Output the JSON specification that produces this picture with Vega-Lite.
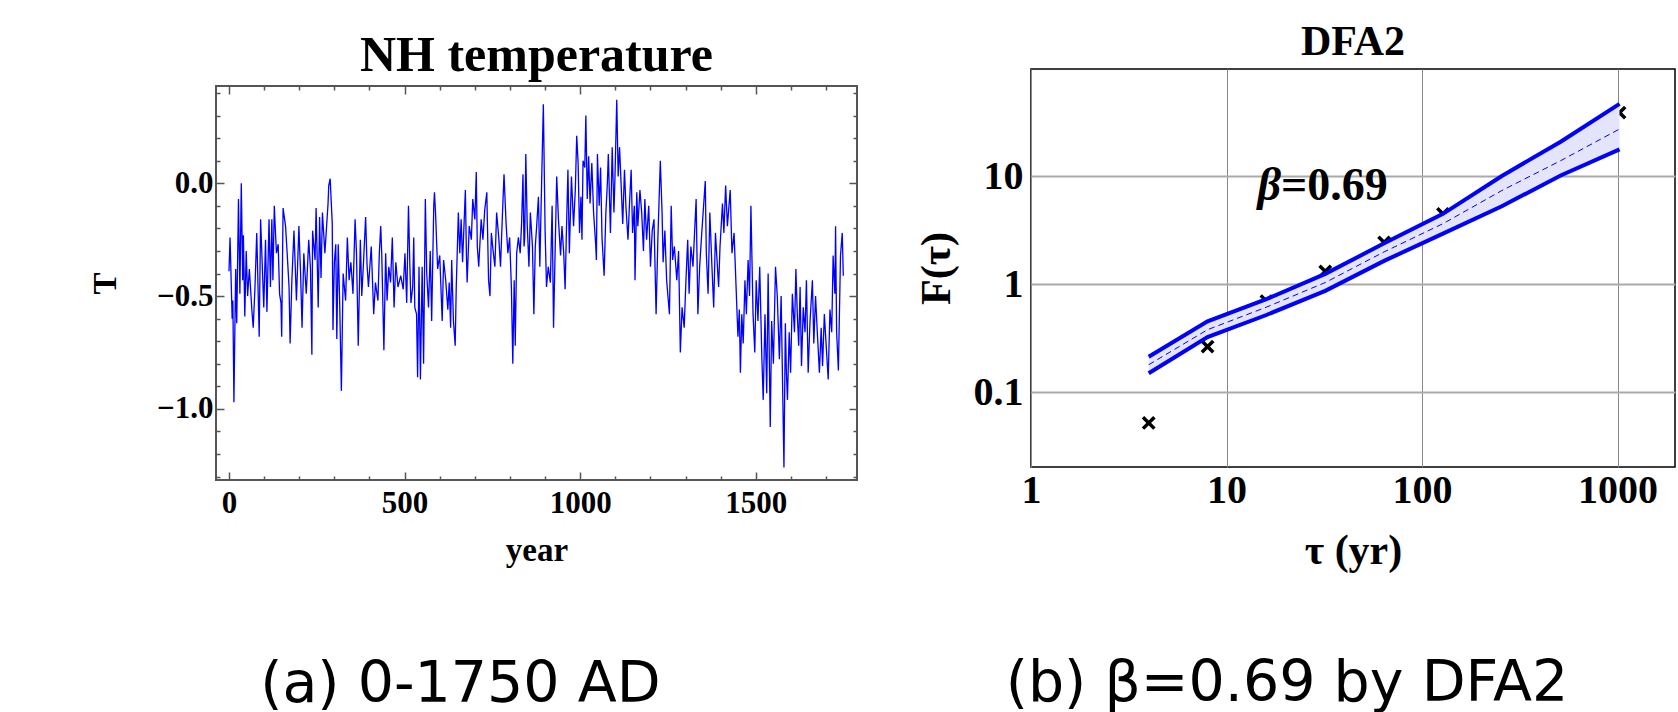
{
  "$schema": "https://vega.github.io/schema/vega-lite/v6.json",
  "background": "white",
  "padding": {"left": 88, "top": 20, "right": 0, "bottom": 0},
  "datasets": {
    "nh": [
      {"year":0,"T":-0.39},{"year":3,"T":-0.24},{"year":9,"T":-0.60},{"year":11,"T":-0.52},{"year":14,"T":-0.97},{"year":19,"T":-0.38},{"year":22,"T":-0.62},{"year":27,"T":-0.07},{"year":31,"T":-0.49},{"year":35,"T":0.00},{"year":39,"T":-0.43},{"year":41,"T":-0.23},{"year":45,"T":-0.59},{"year":49,"T":-0.30},{"year":53,"T":-0.50},{"year":58,"T":-0.38},{"year":65,"T":-0.56},{"year":69,"T":-0.64},{"year":74,"T":-0.46},{"year":79,"T":-0.22},{"year":86,"T":-0.68},{"year":90,"T":-0.16},{"year":99,"T":-0.55},{"year":104,"T":-0.25},{"year":108,"T":-0.57},{"year":114,"T":-0.16},{"year":118,"T":-0.46},{"year":122,"T":-0.16},{"year":125,"T":-0.43},{"year":129,"T":-0.10},{"year":135,"T":-0.31},{"year":140,"T":-0.27},{"year":144,"T":-0.49},{"year":148,"T":-0.53},{"year":150,"T":-0.68},{"year":154,"T":-0.11},{"year":161,"T":-0.19},{"year":166,"T":-0.32},{"year":171,"T":-0.46},{"year":174,"T":-0.71},{"year":179,"T":-0.43},{"year":185,"T":-0.21},{"year":192,"T":-0.52},{"year":199,"T":-0.19},{"year":204,"T":-0.41},{"year":208,"T":-0.64},{"year":213,"T":-0.31},{"year":220,"T":-0.49},{"year":227,"T":-0.25},{"year":232,"T":-0.38},{"year":236,"T":-0.76},{"year":238,"T":-0.21},{"year":245,"T":-0.34},{"year":248,"T":-0.11},{"year":254,"T":-0.55},{"year":258,"T":-0.15},{"year":262,"T":-0.42},{"year":266,"T":-0.13},{"year":273,"T":-0.31},{"year":282,"T":-0.09},{"year":284,"T":-0.01},{"year":288,"T":0.02},{"year":294,"T":-0.18},{"year":296,"T":-0.65},{"year":300,"T":-0.35},{"year":304,"T":-0.27},{"year":307,"T":-0.69},{"year":311,"T":-0.27},{"year":315,"T":-0.52},{"year":320,"T":-0.92},{"year":325,"T":-0.40},{"year":332,"T":-0.52},{"year":337,"T":-0.24},{"year":342,"T":-0.43},{"year":347,"T":-0.35},{"year":353,"T":-0.49},{"year":359,"T":-0.16},{"year":363,"T":-0.31},{"year":368,"T":-0.72},{"year":374,"T":-0.25},{"year":378,"T":-0.50},{"year":383,"T":-0.35},{"year":389,"T":-0.15},{"year":393,"T":-0.36},{"year":397,"T":-0.46},{"year":405,"T":-0.28},{"year":412,"T":-0.58},{"year":417,"T":-0.44},{"year":424,"T":-0.52},{"year":428,"T":-0.31},{"year":432,"T":-0.19},{"year":435,"T":-0.32},{"year":441,"T":-0.74},{"year":446,"T":-0.31},{"year":450,"T":-0.52},{"year":455,"T":-0.37},{"year":460,"T":-0.44},{"year":465,"T":-0.24},{"year":470,"T":-0.55},{"year":475,"T":-0.35},{"year":481,"T":-0.46},{"year":489,"T":-0.41},{"year":496,"T":-0.47},{"year":501,"T":-0.31},{"year":506,"T":-0.53},{"year":511,"T":-0.10},{"year":515,"T":-0.37},{"year":518,"T":-0.53},{"year":523,"T":-0.46},{"year":526,"T":-0.24},{"year":529,"T":-0.55},{"year":534,"T":-0.58},{"year":537,"T":-0.86},{"year":541,"T":-0.37},{"year":545,"T":-0.87},{"year":550,"T":-0.37},{"year":554,"T":-0.80},{"year":559,"T":-0.07},{"year":563,"T":-0.40},{"year":568,"T":-0.55},{"year":573,"T":-0.30},{"year":577,"T":-0.61},{"year":583,"T":-0.10},{"year":585,"T":-0.04},{"year":588,"T":-0.13},{"year":594,"T":-0.38},{"year":600,"T":-0.32},{"year":607,"T":-0.61},{"year":611,"T":-0.34},{"year":617,"T":-0.43},{"year":623,"T":-0.56},{"year":627,"T":-0.44},{"year":631,"T":-0.64},{"year":634,"T":-0.34},{"year":639,"T":-0.61},{"year":644,"T":-0.72},{"year":647,"T":-0.46},{"year":653,"T":-0.13},{"year":657,"T":-0.31},{"year":661,"T":-0.16},{"year":665,"T":-0.35},{"year":673,"T":-0.03},{"year":676,"T":-0.32},{"year":678,"T":-0.44},{"year":684,"T":-0.19},{"year":690,"T":-0.25},{"year":694,"T":-0.07},{"year":700,"T":-0.16},{"year":704,"T":0.05},{"year":707,"T":-0.28},{"year":711,"T":-0.37},{"year":718,"T":-0.16},{"year":723,"T":-0.25},{"year":728,"T":-0.12},{"year":734,"T":-0.04},{"year":739,"T":-0.43},{"year":743,"T":-0.50},{"year":747,"T":-0.22},{"year":752,"T":-0.30},{"year":757,"T":-0.37},{"year":762,"T":-0.13},{"year":768,"T":-0.24},{"year":773,"T":-0.37},{"year":778,"T":-0.16},{"year":783,"T":0.04},{"year":789,"T":-0.18},{"year":794,"T":-0.31},{"year":799,"T":-0.24},{"year":804,"T":-0.46},{"year":808,"T":-0.80},{"year":812,"T":-0.43},{"year":815,"T":-0.72},{"year":819,"T":-0.31},{"year":824,"T":-0.24},{"year":829,"T":-0.31},{"year":833,"T":-0.18},{"year":837,"T":0.04},{"year":840,"T":-0.28},{"year":842,"T":-0.24},{"year":845,"T":0.13},{"year":849,"T":-0.18},{"year":854,"T":-0.37},{"year":858,"T":-0.13},{"year":864,"T":-0.28},{"year":868,"T":-0.58},{"year":872,"T":-0.28},{"year":876,"T":-0.19},{"year":881,"T":-0.06},{"year":885,"T":-0.37},{"year":891,"T":0.07},{"year":895,"T":0.35},{"year":900,"T":-0.21},{"year":904,"T":-0.46},{"year":909,"T":-0.37},{"year":915,"T":-0.44},{"year":920,"T":-0.10},{"year":924,"T":-0.64},{"year":928,"T":-0.34},{"year":933,"T":0.03},{"year":938,"T":-0.16},{"year":944,"T":-0.32},{"year":948,"T":-0.19},{"year":953,"T":-0.31},{"year":957,"T":-0.47},{"year":961,"T":-0.19},{"year":965,"T":0.06},{"year":969,"T":-0.31},{"year":975,"T":0.03},{"year":981,"T":-0.19},{"year":986,"T":-0.03},{"year":990,"T":0.21},{"year":994,"T":0.09},{"year":998,"T":-0.22},{"year":1002,"T":-0.06},{"year":1005,"T":-0.25},{"year":1008,"T":0.10},{"year":1013,"T":0.07},{"year":1016,"T":0.30},{"year":1020,"T":-0.07},{"year":1024,"T":0.12},{"year":1028,"T":-0.09},{"year":1033,"T":0.09},{"year":1038,"T":-0.13},{"year":1044,"T":-0.27},{"year":1046,"T":-0.34},{"year":1049,"T":0.13},{"year":1054,"T":-0.10},{"year":1058,"T":0.07},{"year":1062,"T":-0.24},{"year":1068,"T":-0.41},{"year":1073,"T":-0.13},{"year":1077,"T":-0.01},{"year":1080,"T":0.13},{"year":1086,"T":-0.22},{"year":1091,"T":0.16},{"year":1096,"T":-0.13},{"year":1099,"T":0.03},{"year":1104,"T":0.37},{"year":1108,"T":0.03},{"year":1112,"T":0.16},{"year":1116,"T":0.01},{"year":1121,"T":-0.18},{"year":1126,"T":0.06},{"year":1130,"T":-0.10},{"year":1136,"T":-0.25},{"year":1140,"T":-0.10},{"year":1145,"T":0.06},{"year":1149,"T":-0.22},{"year":1154,"T":-0.10},{"year":1156,"T":-0.43},{"year":1161,"T":-0.04},{"year":1164,"T":-0.19},{"year":1170,"T":-0.03},{"year":1175,"T":-0.13},{"year":1180,"T":-0.30},{"year":1184,"T":-0.07},{"year":1189,"T":-0.25},{"year":1195,"T":-0.10},{"year":1200,"T":-0.37},{"year":1205,"T":-0.21},{"year":1210,"T":-0.16},{"year":1216,"T":-0.58},{"year":1221,"T":-0.25},{"year":1228,"T":0.10},{"year":1233,"T":-0.13},{"year":1236,"T":-0.35},{"year":1241,"T":-0.21},{"year":1246,"T":-0.43},{"year":1254,"T":-0.58},{"year":1259,"T":-0.10},{"year":1263,"T":-0.34},{"year":1268,"T":-0.28},{"year":1275,"T":-0.43},{"year":1280,"T":-0.30},{"year":1285,"T":-0.75},{"year":1290,"T":-0.55},{"year":1296,"T":-0.64},{"year":1301,"T":-0.43},{"year":1306,"T":-0.25},{"year":1310,"T":-0.49},{"year":1315,"T":-0.28},{"year":1321,"T":-0.37},{"year":1330,"T":-0.07},{"year":1335,"T":-0.58},{"year":1340,"T":-0.37},{"year":1346,"T":-0.22},{"year":1356,"T":0.01},{"year":1359,"T":-0.31},{"year":1364,"T":-0.49},{"year":1369,"T":-0.13},{"year":1375,"T":-0.37},{"year":1380,"T":-0.55},{"year":1385,"T":-0.22},{"year":1394,"T":-0.46},{"year":1398,"T":-0.28},{"year":1405,"T":-0.09},{"year":1409,"T":-0.22},{"year":1414,"T":-0.01},{"year":1419,"T":-0.19},{"year":1427,"T":-0.03},{"year":1432,"T":-0.31},{"year":1438,"T":-0.22},{"year":1443,"T":-0.43},{"year":1449,"T":-0.68},{"year":1453,"T":-0.56},{"year":1456,"T":-0.84},{"year":1460,"T":-0.58},{"year":1464,"T":-0.71},{"year":1469,"T":-0.43},{"year":1473,"T":-0.58},{"year":1478,"T":-0.34},{"year":1482,"T":-0.50},{"year":1486,"T":-0.10},{"year":1492,"T":-0.58},{"year":1497,"T":-0.75},{"year":1501,"T":-0.43},{"year":1506,"T":-0.61},{"year":1511,"T":-0.37},{"year":1517,"T":-0.77},{"year":1521,"T":-0.96},{"year":1526,"T":-0.58},{"year":1531,"T":-0.93},{"year":1535,"T":-0.40},{"year":1541,"T":-1.08},{"year":1545,"T":-0.61},{"year":1550,"T":-0.80},{"year":1556,"T":-0.37},{"year":1561,"T":-0.50},{"year":1567,"T":-0.78},{"year":1572,"T":-0.50},{"year":1580,"T":-1.26},{"year":1584,"T":-0.62},{"year":1587,"T":-0.84},{"year":1590,"T":-0.96},{"year":1595,"T":-0.66},{"year":1599,"T":-0.84},{"year":1604,"T":-0.49},{"year":1610,"T":-0.66},{"year":1614,"T":-0.38},{"year":1618,"T":-0.58},{"year":1622,"T":-0.72},{"year":1626,"T":-0.46},{"year":1630,"T":-0.81},{"year":1635,"T":-0.55},{"year":1640,"T":-0.66},{"year":1644,"T":-0.43},{"year":1649,"T":-0.84},{"year":1654,"T":-0.62},{"year":1661,"T":-0.43},{"year":1665,"T":-0.71},{"year":1670,"T":-0.50},{"year":1675,"T":-0.66},{"year":1681,"T":-0.84},{"year":1686,"T":-0.64},{"year":1690,"T":-0.81},{"year":1695,"T":-0.58},{"year":1706,"T":-0.87},{"year":1711,"T":-0.56},{"year":1716,"T":-0.66},{"year":1720,"T":-0.32},{"year":1725,"T":-0.49},{"year":1727,"T":-0.19},{"year":1730,"T":-0.66},{"year":1735,"T":-0.83},{"year":1741,"T":-0.32},{"year":1746,"T":-0.22},{"year":1749,"T":-0.41}
    ],
    "band": [
      {"tau":4,"lo":0.15,"hi":0.213,"mid":0.18},
      {"tau":8,"lo":0.325,"hi":0.455,"mid":0.38},
      {"tau":16,"lo":0.52,"hi":0.73,"mid":0.615},
      {"tau":32,"lo":0.87,"hi":1.25,"mid":1.04},
      {"tau":64,"lo":1.65,"hi":2.4,"mid":2.0},
      {"tau":128,"lo":2.95,"hi":4.5,"mid":3.65},
      {"tau":256,"lo":5.3,"hi":10.1,"mid":7.4},
      {"tau":512,"lo":10.2,"hi":21,"mid":14},
      {"tau":1024,"lo":17.8,"hi":47,"mid":27.5}
    ],
    "dfa": [
      {"tau":4,"F":0.052},{"tau":8,"F":0.265},{"tau":16,"F":0.70},{"tau":32,"F":1.32},{"tau":64,"F":2.45},{"tau":128,"F":4.5},{"tau":1024,"F":39}
    ],
    "beta": [{"tau":19,"F":6.07,"sym":"β","val":"=0.69"}]
  },
  "hconcat": [
    {
      "title": {"text": "(a) 0-1750 AD", "orient": "bottom", "anchor": "middle", "font": "DejaVu Sans", "fontWeight": "normal", "fontSize": 57, "baseline": "alphabetic", "offset": 134, "dx": -13, "color": "black"},
      "bounds": "flush",
      "spacing": 0,
      "vconcat": [
        {
          "width": 641, "height": 17,
          "view": {"stroke": null},
          "data": {"values": [{"a": 1}]},
          "mark": {"type": "text"},
          "encoding": {"text": {"value": ""}}
        },
        {
          "title": {"text": "NH temperature", "fontSize": 50, "baseline": "alphabetic", "offset": -44, "frame": "group", "anchor": "middle"},
          "width": 641, "height": 394,
          "view": {"stroke": "#555555", "strokeWidth": 2},
          "data": {"name": "nh"},
          "resolve": {"axis": {"x": "independent", "y": "independent"}},
          "layer": [
            {
              "mark": {"type": "line", "color": "#0000ff", "strokeWidth": 1.3},
              "encoding": {
                "x": {"field": "year", "type": "quantitative",
                  "scale": {"domain": [-37, 1788], "nice": false, "zero": false},
                  "axis": {"orient": "bottom", "values": [0,100,200,300,400,500,600,700,800,900,1000,1100,1200,1300,1400,1500,1600,1700],
                    "format": "d", "labelExpr": "datum.value % 500 === 0 ? datum.label : ''",
                    "domain": false, "grid": false, "tickColor": "#555555", "tickWidth": 1.5,
                    "tickSize": {"condition": {"test": "datum.value % 500 === 0", "value": -8}, "value": -4},
                    "labelFontSize": 31, "labelPadding": 16, "labelOverlap": false, "labelBound": false, "labelFlush": false,
                    "title": "year", "titleFontSize": 33, "titleX": 320.5, "titleY": 80, "titleBaseline": "alphabetic", "titleAlign": "center"}},
                "y": {"field": "T", "type": "quantitative",
                  "scale": {"domain": [-1.315, 0.431], "nice": false, "zero": false},
                  "axis": {"orient": "left", "values": [-1.3,-1.2,-1.1,-1.0,-0.9,-0.8,-0.7,-0.6,-0.5,-0.4,-0.3,-0.2,-0.1,0,0.1,0.2,0.3,0.4],
                    "format": ".1f", "labelExpr": "(datum.value === 0 || datum.value === -0.5 || datum.value === -1) ? datum.label : ''",
                    "domain": false, "grid": false, "tickColor": "#555555", "tickWidth": 1.5,
                    "tickSize": {"condition": {"test": "datum.value === 0 || datum.value === -0.5 || datum.value === -1", "value": -8}, "value": -4},
                    "labelFontSize": 31, "labelPadding": 11, "labelOverlap": false, "labelBound": false, "labelFlush": false,
                    "title": "T", "titleFontSize": 33, "titleAngle": 270, "titleX": -111, "titleY": 197, "titleBaseline": "middle", "titleAlign": "center"}}
              }
            },
            {
              "mark": {"type": "line", "opacity": 0},
              "encoding": {
                "x": {"field": "year", "type": "quantitative",
                  "scale": {"domain": [-37, 1788], "nice": false, "zero": false},
                  "axis": {"orient": "top", "values": [0,100,200,300,400,500,600,700,800,900,1000,1100,1200,1300,1400,1500,1600,1700],
                    "labels": false, "domain": false, "grid": false, "tickColor": "#555555", "tickWidth": 1.5,
                    "tickSize": {"condition": {"test": "datum.value % 500 === 0", "value": -8}, "value": -4},
                    "title": null}},
                "y": {"field": "T", "type": "quantitative",
                  "scale": {"domain": [-1.315, 0.431], "nice": false, "zero": false},
                  "axis": {"orient": "right", "values": [-1.3,-1.2,-1.1,-1.0,-0.9,-0.8,-0.7,-0.6,-0.5,-0.4,-0.3,-0.2,-0.1,0,0.1,0.2,0.3,0.4],
                    "labels": false, "domain": false, "grid": false, "tickColor": "#555555", "tickWidth": 1.5,
                    "tickSize": {"condition": {"test": "datum.value === 0 || datum.value === -0.5 || datum.value === -1", "value": -8}, "value": -4},
                    "title": null}}
              }
            }
          ]
        }
      ]
    },
    {
      "title": {"text": "(b) β=0.69 by DFA2", "orient": "bottom", "anchor": "middle", "font": "DejaVu Sans", "fontWeight": "normal", "fontSize": 57, "baseline": "alphabetic", "offset": 129, "dx": -8, "color": "black"},
      "bounds": "flush",
      "vconcat": [
        {
          "title": {"text": "DFA2", "fontSize": 42, "baseline": "alphabetic", "offset": -28, "frame": "group", "anchor": "middle"},
          "width": 644, "height": 398,
          "view": {"stroke": "#000000", "strokeWidth": 1.5},
          "encoding": {
            "x": {"field": "tau", "type": "quantitative",
              "scale": {"type": "log", "domain": [1, 1968], "nice": false},
              "axis": {"values": [1,10,100,1000], "format": "~g", "domain": false, "ticks": false,
                "grid": true, "gridColor": "#888888", "gridWidth": 1,
                "labelFontSize": 40, "labelPadding": 3, "labelOverlap": false, "labelBound": false, "labelFlush": false,
                "title": "τ (yr)", "titleFontSize": 42, "titleX": 322, "titleY": 96, "titleBaseline": "alphabetic", "titleAlign": "center"}}
          },
          "layer": [
            {
              "data": {"name": "dfa"},
              "mark": {"type": "point", "shape": "M-1,-1L1,1M-1,1L1,-1", "filled": false, "stroke": "#000000", "strokeWidth": 3.5, "size": 130, "opacity": 1},
              "encoding": {
                "y": {"field": "F", "type": "quantitative",
                  "scale": {"type": "log", "domain": [0.0203, 99], "nice": false},
                  "axis": {"values": [0.1,1,10], "format": "~g", "domain": false, "ticks": false,
                    "grid": true, "gridColor": "#aaaaaa", "gridWidth": 2,
                    "labelFontSize": 40, "labelPadding": 8, "labelOverlap": false, "labelBound": false, "labelFlush": false,
                    "title": "F(τ)", "titleFontSize": 42, "titleAngle": 270, "titleX": -95, "titleY": 199, "titleBaseline": "middle", "titleAlign": "center"}}
              }
            },
            {
              "data": {"name": "band"},
              "mark": {"type": "area", "color": "#e4e4fb", "opacity": 1},
              "encoding": {
                "y": {"field": "lo", "type": "quantitative", "scale": {"type": "log", "domain": [0.0203, 99], "nice": false},
                  "axis": {"values": [0.1,1,10], "format": "~g", "domain": false, "ticks": false, "grid": true, "gridColor": "#aaaaaa", "gridWidth": 2, "labelFontSize": 40, "labelPadding": 8, "title": "F(τ)", "titleFontSize": 42, "titleAngle": 270, "titleX": -95, "titleY": 199, "titleBaseline": "middle", "titleAlign": "center"}},
                "y2": {"field": "hi"}
              }
            },
            {
              "data": {"name": "band"},
              "mark": {"type": "line", "color": "#0000ff", "strokeWidth": 1, "strokeDash": [6, 4]},
              "encoding": {
                "y": {"field": "mid", "type": "quantitative", "scale": {"type": "log", "domain": [0.0203, 99], "nice": false},
                  "axis": {"values": [0.1,1,10], "format": "~g", "domain": false, "ticks": false, "grid": true, "gridColor": "#aaaaaa", "gridWidth": 2, "labelFontSize": 40, "labelPadding": 8, "title": "F(τ)", "titleFontSize": 42, "titleAngle": 270, "titleX": -95, "titleY": 199, "titleBaseline": "middle", "titleAlign": "center"}}
              }
            },
            {
              "data": {"name": "band"},
              "mark": {"type": "line", "color": "#0000ff", "strokeWidth": 4},
              "encoding": {
                "y": {"field": "hi", "type": "quantitative", "scale": {"type": "log", "domain": [0.0203, 99], "nice": false},
                  "axis": {"values": [0.1,1,10], "format": "~g", "domain": false, "ticks": false, "grid": true, "gridColor": "#aaaaaa", "gridWidth": 2, "labelFontSize": 40, "labelPadding": 8, "title": "F(τ)", "titleFontSize": 42, "titleAngle": 270, "titleX": -95, "titleY": 199, "titleBaseline": "middle", "titleAlign": "center"}}
              }
            },
            {
              "data": {"name": "band"},
              "mark": {"type": "line", "color": "#0000ff", "strokeWidth": 4},
              "encoding": {
                "y": {"field": "lo", "type": "quantitative", "scale": {"type": "log", "domain": [0.0203, 99], "nice": false},
                  "axis": {"values": [0.1,1,10], "format": "~g", "domain": false, "ticks": false, "grid": true, "gridColor": "#aaaaaa", "gridWidth": 2, "labelFontSize": 40, "labelPadding": 8, "title": "F(τ)", "titleFontSize": 42, "titleAngle": 270, "titleX": -95, "titleY": 199, "titleBaseline": "middle", "titleAlign": "center"}}
              }
            },
            {
              "data": {"name": "beta"},
              "mark": {"type": "text", "align": "right", "baseline": "alphabetic", "font": "Liberation Serif", "fontStyle": "italic", "fontWeight": "bold", "fontSize": 46, "color": "#000000"},
              "encoding": {
                "y": {"field": "F", "type": "quantitative", "scale": {"type": "log", "domain": [0.0203, 99], "nice": false},
                  "axis": {"values": [0.1,1,10], "format": "~g", "domain": false, "ticks": false, "grid": true, "gridColor": "#aaaaaa", "gridWidth": 2, "labelFontSize": 40, "labelPadding": 8, "title": "F(τ)", "titleFontSize": 42, "titleAngle": 270, "titleX": -95, "titleY": 199, "titleBaseline": "middle", "titleAlign": "center"}},
                "text": {"field": "sym"}
              }
            },
            {
              "data": {"name": "beta"},
              "mark": {"type": "text", "align": "left", "baseline": "alphabetic", "font": "Liberation Serif", "fontWeight": "bold", "fontSize": 46, "color": "#000000"},
              "encoding": {
                "y": {"field": "F", "type": "quantitative", "scale": {"type": "log", "domain": [0.0203, 99], "nice": false},
                  "axis": {"values": [0.1,1,10], "format": "~g", "domain": false, "ticks": false, "grid": true, "gridColor": "#aaaaaa", "gridWidth": 2, "labelFontSize": 40, "labelPadding": 8, "title": "F(τ)", "titleFontSize": 42, "titleAngle": 270, "titleX": -95, "titleY": 199, "titleBaseline": "middle", "titleAlign": "center"}},
                "text": {"field": "val"}
              }
            }
          ]
        }
      ]
    }
  ],
  "spacing": 815,
  "bounds": "flush",
  "config": {
    "font": "Liberation Serif",
    "axis": {"labelFont": "Liberation Serif", "labelFontWeight": "bold", "labelColor": "#000000", "titleFont": "Liberation Serif", "titleFontWeight": "bold", "titleColor": "#000000"},
    "title": {"font": "Liberation Serif", "fontWeight": "bold", "color": "#000000"}
  }
}
